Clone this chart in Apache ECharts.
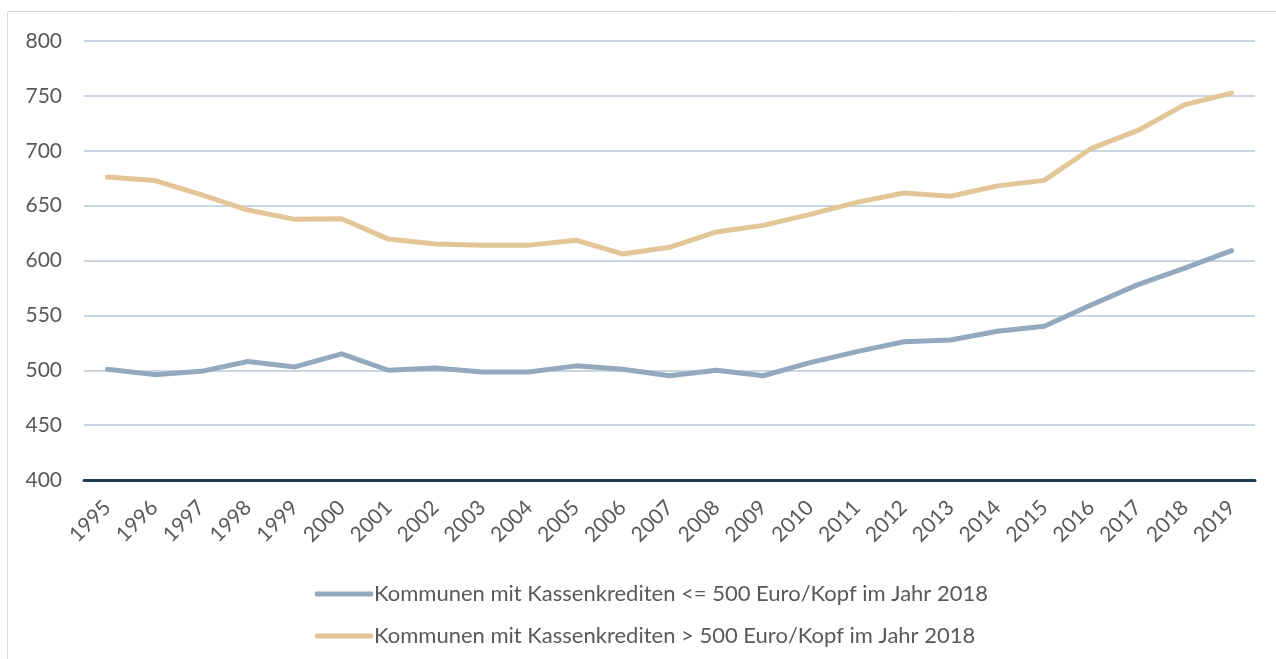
<!DOCTYPE html>
<html>
<head>
<meta charset="utf-8">
<script src="https://cdn.jsdelivr.net/npm/echarts@6/dist/echarts.min.js"></script>
<style>
  html, body { margin: 0; padding: 0; background: #fff; }
  #chart { width: 1276px; height: 659px; }
</style>
</head>
<body>
<div id="chart"></div>
<script>
var years = ['1995', '1996', '1997', '1998', '1999', '2000', '2001', '2002', '2003', '2004', '2005', '2006',
  '2007', '2008', '2009', '2010', '2011', '2012', '2013', '2014', '2015', '2016', '2017', '2018', '2019'];
var lowSeriesName = 'Kommunen mit Kassenkrediten <= 500 Euro/Kopf im Jahr 2018';
var highSeriesName = 'Kommunen mit Kassenkrediten > 500 Euro/Kopf im Jahr 2018';
var lowValues = [501, 496, 499, 508, 503, 515, 500, 502, 498.5, 498.5, 504, 501,
  495, 500, 495, 507, 517, 526, 527.5, 535.5, 540, 559.5, 578, 593, 609];
var highValues = [676, 673, 660, 646, 637.5, 638, 619.5, 615, 614, 614, 618.5, 606,
  612, 626, 632, 642, 653, 661.5, 658.5, 668, 673, 702, 718.5, 742, 752.5];

var chart = echarts.init(document.getElementById('chart'));
var labelFont = 'Lato, "Open Sans", sans-serif';

var option = {
  animation: false,
  backgroundColor: '#fff',
  graphic: [{
    type: 'rect',
    shape: { x: 7.5, y: 11.5, width: 1275, height: 660 },
    style: { fill: 'none', stroke: '#d9d9d9', lineWidth: 1 },
    silent: true
  }],
  grid: { left: 84, right: 21, top: 41, bottom: 179, containLabel: false },
  legend: {
    orient: 'vertical',
    left: 310,
    top: 578,
    itemWidth: 58,
    itemHeight: 5,
    itemGap: 20,
    textStyle: { color: '#595959', fontSize: 22, fontFamily: labelFont, padding: [0, 0, 0, -4] },
    data: [
      { name: lowSeriesName, icon: 'roundRect' },
      { name: highSeriesName, icon: 'roundRect' }
    ]
  },
  xAxis: {
    type: 'category',
    data: years,
    boundaryGap: true,
    axisLine: { show: true, lineStyle: { color: '#203a5a', width: 3 } },
    axisTick: { show: false },
    axisLabel: { color: '#595959', fontSize: 21, fontFamily: labelFont, rotate: 45, margin: 24, interval: 0 }
  },
  yAxis: {
    type: 'value',
    min: 400,
    max: 800,
    interval: 50,
    axisLine: { show: false },
    axisTick: { show: false },
    axisLabel: { color: '#595959', fontSize: 21, fontFamily: labelFont, margin: 22 },
    splitLine: { lineStyle: { color: '#b9c9d9', width: 1.5 } }
  },
  series: [
    {
      name: lowSeriesName,
      type: 'line',
      data: lowValues,
      symbol: 'none',
      lineStyle: { color: '#94a9be', width: 5, cap: 'round', join: 'round' },
      itemStyle: { color: '#94a9be' }
    },
    {
      name: highSeriesName,
      type: 'line',
      data: highValues,
      symbol: 'none',
      lineStyle: { color: '#e2c697', width: 5, cap: 'round', join: 'round' },
      itemStyle: { color: '#e2c697' }
    }
  ]
};
chart.setOption(option);
</script>
</body>
</html>
